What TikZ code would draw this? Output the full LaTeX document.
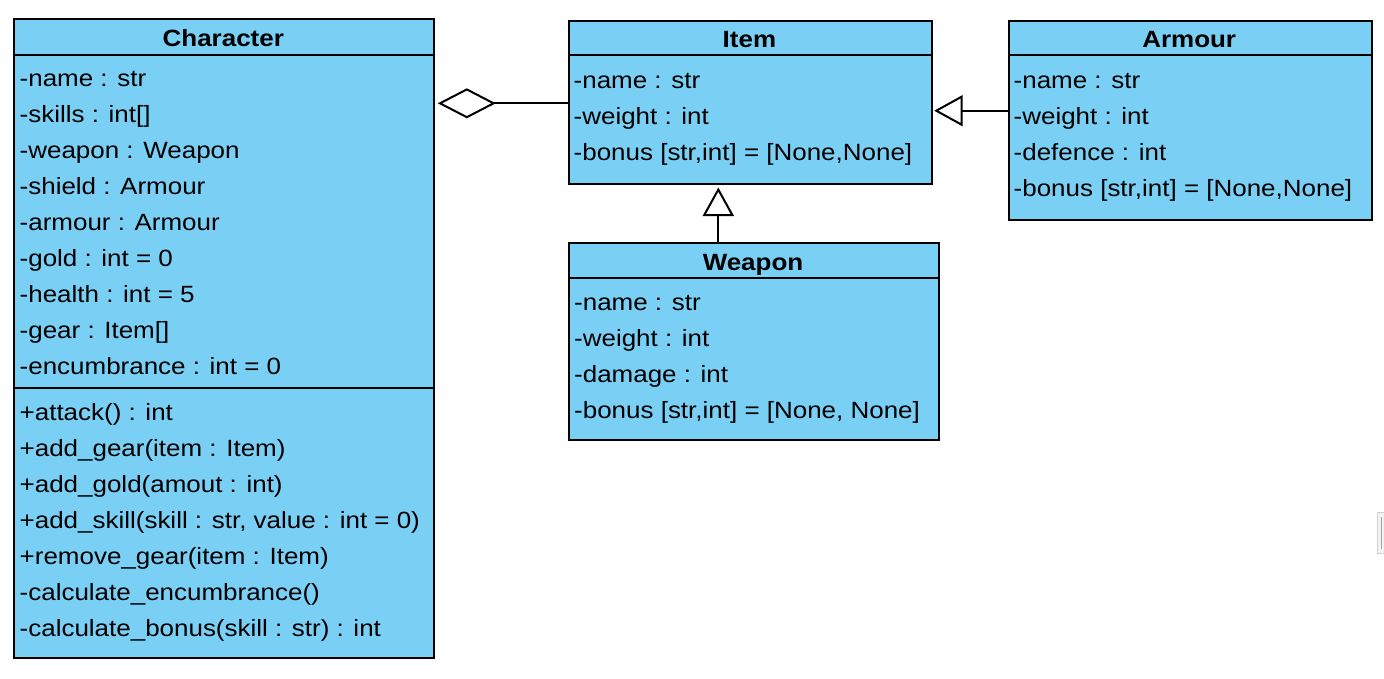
\documentclass[tikz,border=0pt]{standalone}
\usepackage{fontspec}
\setmainfont{Liberation Sans}[FakeStretch=1.105]
\usetikzlibrary{arrows.meta}
\definecolor{umlblue}{RGB}{122,207,245}
\tikzset{
  classbox/.style={draw=black, fill=umlblue, line width=2pt, rectangle, inner sep=0pt, anchor=north west},
  rowtext/.style={anchor=base west, inner sep=0pt, font=\fontsize{23.5}{28}\selectfont},
  titletext/.style={anchor=base, inner sep=0pt, font=\fontsize{23.5}{28}\selectfont\bfseries},
  sepline/.style={line width=2pt},
  aggline/.style={line width=2pt, -{Diamond[open, length=58pt, width=30pt, line width=2pt]}},
  inhline/.style={line width=2pt, -{Triangle[open, length=28.5pt, width=31pt, line width=2pt]}},
}
\begin{document}
\begin{tikzpicture}[x=1pt,y=-1pt]
\useasboundingbox (0,0) rectangle (1384,678);

% ---- class boxes
\node[classbox, minimum width=420pt, minimum height=639pt] (char) at (13.3,17.5) {};
\node[classbox, minimum width=363.3pt, minimum height=163pt] (item) at (567.7,19.5) {};
\node[classbox, minimum width=363pt, minimum height=199pt] (armour) at (1007.7,19.5) {};
\node[classbox, minimum width=370.6pt, minimum height=197pt] (weapon) at (567.7,241.5) {};

% ---- compartment separators
\draw[sepline] (char.west |- 0,54.5) -- (char.east |- 0,54.5);
\draw[sepline] (char.west |- 0,387.5) -- (char.east |- 0,387.5);
\draw[sepline] (item.west |- 0,54.8) -- (item.east |- 0,54.8);
\draw[sepline] (armour.west |- 0,55) -- (armour.east |- 0,55);
\draw[sepline] (weapon.west |- 0,277.5) -- (weapon.east |- 0,277.5);

% ---- titles
\node[titletext] (chartitle) at (223.3,46) {Character};
\node[titletext] (itemtitle) at (749.4,47.5) {Item};
\node[titletext] (armourtitle) at (1189.2,47.5) {Armour};
\node[titletext] (weapontitle) at (753,270) {Weapon};

% ---- Character attributes
\foreach \t [count=\k from 0] in {{-name : str},{-skills : int[]},{-weapon : Weapon},{-shield : Armour},{-armour : Armour},{-gold : int = 0},{-health : int = 5},{-gear : Item[]},{-encumbrance : int = 0}}
  \node[rowtext] (ca\k) at (19.5,{86.5+36*\k}) {\t};
% ---- Character operations
\foreach \t [count=\k from 0] in {{+attack() : int},{+add\_gear(item : Item)},{+add\_gold(amout : int)},{+add\_skill(skill : str, value : int = 0)},{+remove\_gear(item : Item)},{-calculate\_encumbrance()},{-calculate\_bonus(skill : str) : int}}
  \node[rowtext] (cm\k) at (19.5,{420+36*\k}) {\t};

% ---- Item attributes
\foreach \t [count=\k from 0] in {{-name : str},{-weight : int},{-bonus [str,int] = [None,None]}}
  \node[rowtext] (ia\k) at (573.5,{88.3+36*\k}) {\t};

% ---- Armour attributes
\foreach \t [count=\k from 0] in {{-name : str},{-weight : int},{-defence : int},{-bonus [str,int] = [None,None]}}
  \node[rowtext] (aa\k) at (1013.5,{88.3+36*\k}) {\t};

% ---- Weapon attributes
\foreach \t [count=\k from 0] in {{-name : str},{-weight : int},{-damage : int},{-bonus [str,int] = [None, None]}}
  \node[rowtext] (wa\k) at (574,{310+36*\k}) {\t};

% ---- connectors
\draw[aggline, shorten >=2.5pt] (item.west |- 0,103.3) -- (char.east |- 0,103.3);
\draw[inhline, shorten >=1.2pt] (armour.west |- 0,110.7) -- (item.east |- 0,110.7);
\draw[inhline, shorten >=3pt] (weapon.north -| 718.3,0) -- (item.south -| 718.3,0);

% ---- scroll handle at the right edge
\node[draw=gray!35, fill=gray!10, line width=0.8pt, minimum width=8pt, minimum height=41pt, inner sep=0pt, anchor=north west] (scroll) at (1376.8,512) {};
\draw[gray!70, line width=1.4pt] ([yshift=-5pt]scroll.north) -- ([yshift=5pt]scroll.south);
\end{tikzpicture}
\end{document}
